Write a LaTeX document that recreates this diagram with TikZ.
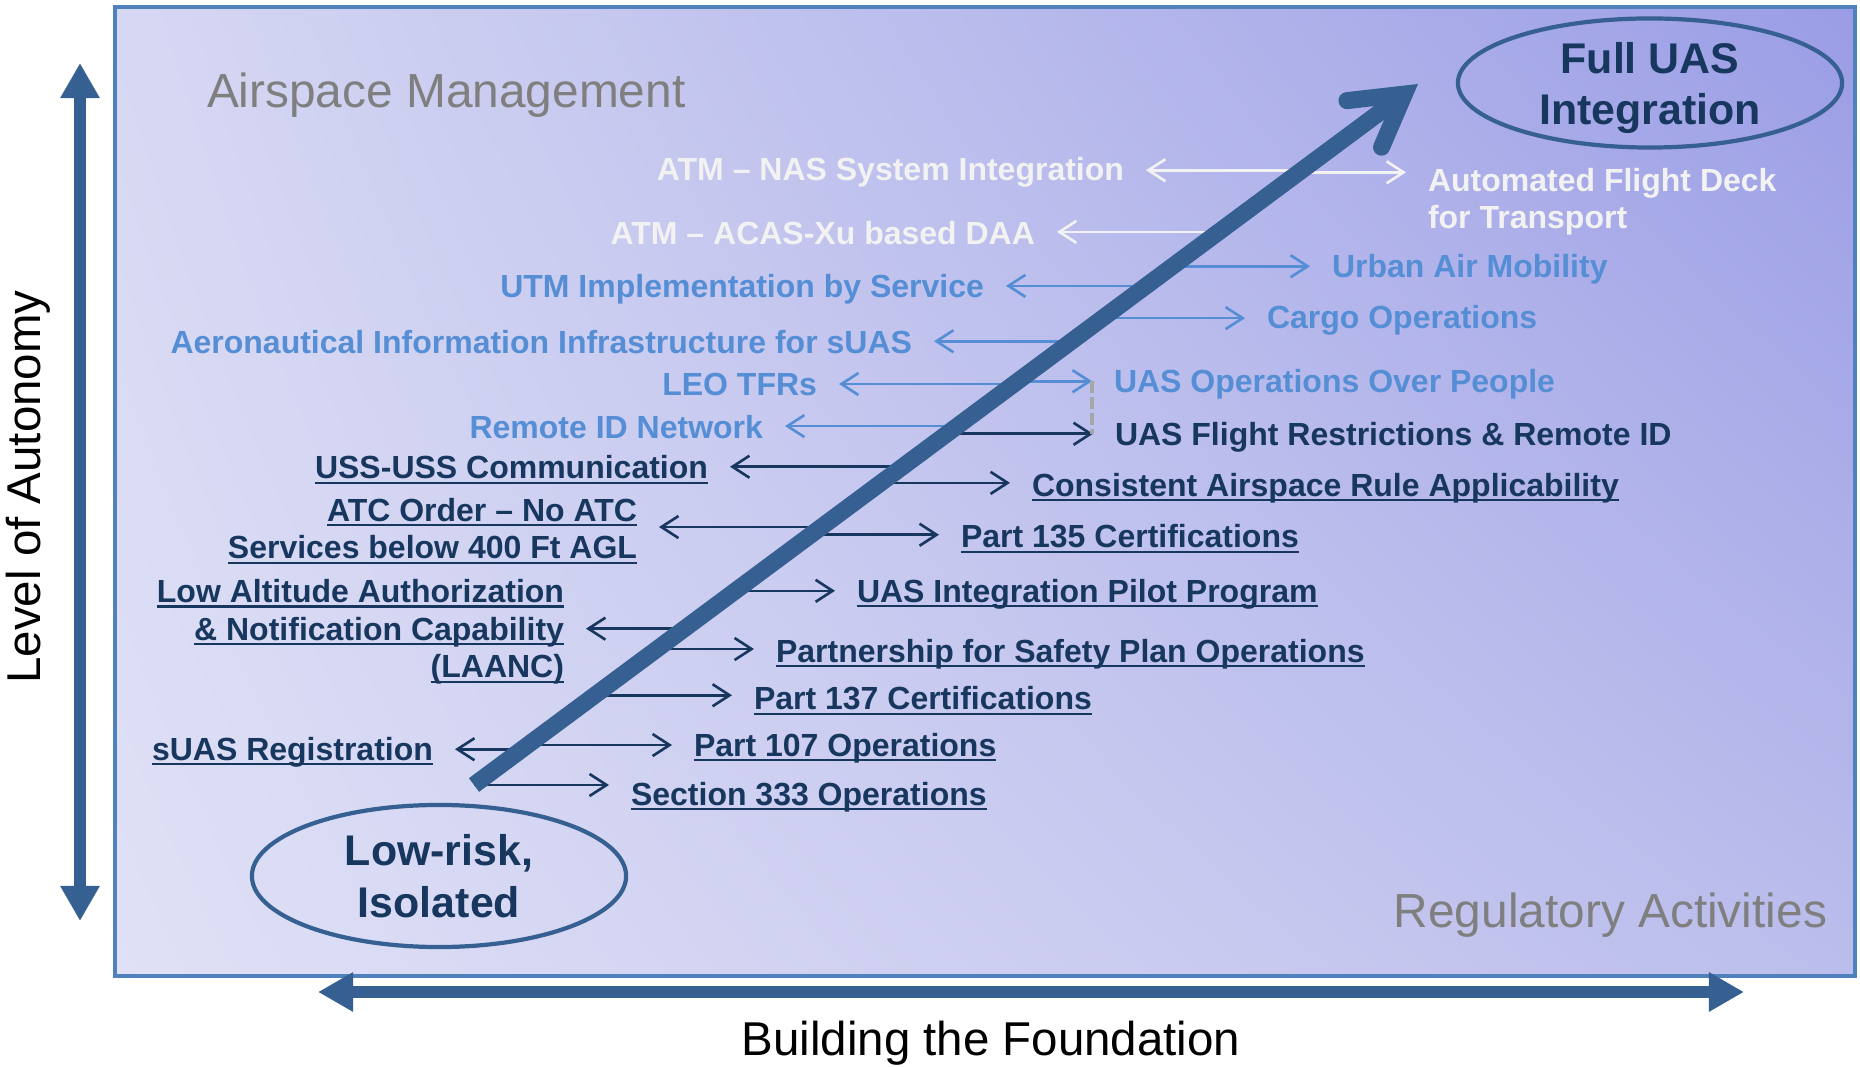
\documentclass[tikz,border=0pt]{standalone}
\usepackage{fontspec}
\setmainfont{Liberation Sans}
\usepackage{xcolor}
\usepackage{tikz}
\usetikzlibrary{shapes,arrows,positioning,calc,shadings,arrows.meta}

\definecolor{navy}{HTML}{17375E}
\definecolor{midblue}{HTML}{376092}
\definecolor{frameblue}{HTML}{4F81BD}
\definecolor{labelblue}{HTML}{558ED5}
\definecolor{offwhite}{HTML}{F2F2F2}
\definecolor{dashgray}{HTML}{A6A6A6}
\definecolor{textgray}{HTML}{7F7F7F}
\definecolor{bgul}{HTML}{D6D8F3}
\definecolor{bgur}{HTML}{9A9DE5}
\definecolor{bgll}{HTML}{E0E1F6}
\definecolor{bglr}{HTML}{BBBDEC}

\newcommand{\uln}[1]{\leavevmode\setbox0=\hbox{#1}\rlap{\rule[-0.16em]{\wd0}{0.065em}}\box0}

\begin{document}
\begin{tikzpicture}[x=0.01cm, y=-0.01cm, outer sep=0pt,
    lab/.style={font=\bfseries\fontsize{9.1}{10.7}\selectfont, inner xsep=0.22cm, inner ysep=0pt, yshift=-0.028cm},
    lft/.style={lab, anchor=east, align=right},
    rgt/.style={lab, anchor=west, align=left},
    conn/.style={line width=0.75pt, -{Straight Barb[length=0.17cm, width=0.22cm]}},
    goal/.style={draw=midblue, line width=1.2pt, ellipse, inner sep=0pt},
    goal text/.style={text=navy, align=center, inner sep=0pt, font=\bfseries\fontsize{12.2}{14.8}\selectfont},
    axis arrow/.style={midblue, line width=3.4pt, {Triangle[length=0.35cm, width=0.37cm]}-{Triangle[length=0.35cm, width=0.37cm]}},
    axis text/.style={font=\fontsize{13.5}{16}\selectfont, inner sep=0pt},
    area/.style={textgray, font=\fontsize{13.6}{16}\selectfont, inner sep=0pt}]
    \useasboundingbox (0,0) rectangle (1860,1067);
    % background panel
    \shade[upper left=bgul, upper right=bgur, lower left=bgll, lower right=bglr] (115,7) rectangle (1855,976);
    \draw[frameblue, line width=1.1pt] (115,7) rectangle (1855,976);

    % axes
    \coordinate (autotop) at (80,63);
    \coordinate (autobot) at (80,921);
    \draw[axis arrow] (autobot) -- (autotop);
    \node[axis text, rotate=90] (autonomy) at (28,487) {Level of Autonomy};
    \coordinate (foundl) at (318,992);
    \coordinate (foundr) at (1744,992);
    \draw[axis arrow] (foundl) -- (foundr);
    \node[axis text] (foundation) at (991,1043) {Building the Foundation};

    \node[area, anchor=west] (airspace) at (207,95) {Airspace Management};
    \node[area, anchor=east] (regulatory) at (1827,915) {Regulatory Activities};

    % start and goal
    \node[goal, minimum width=3.74cm, minimum height=1.42cm] (lowrisk) at (439,876) {};
    \node[goal text] (lowrisktext) at (lowrisk.center) {Low-risk,\\Isolated};
    \node[goal, minimum width=3.84cm, minimum height=1.29cm] (fulluas) at (1650,83) {};
    \node[goal text, font=\bfseries\fontsize{12.2}{14.3}\selectfont] (fulluastext) at (1650,88) {Full UAS\\Integration};

    % points on the progression line
    \coordinate (lo) at (474,785);
    \coordinate (hi) at (1418,84);
    \path (lo) -- (hi)
        coordinate[pos=0.877] (p-atmnas) coordinate[pos=0.874] (p-afd)
        coordinate[pos=0.789] (p-atmacas) coordinate[pos=0.740] (p-uam)
        coordinate[pos=0.712] (p-utm) coordinate[pos=0.666] (p-cargo)
        coordinate[pos=0.633] (p-aiis) coordinate[pos=0.576] (p-opsp)
        coordinate[pos=0.572] (p-leo) coordinate[pos=0.512] (p-rid)
        coordinate[pos=0.501] (p-frid) coordinate[pos=0.454] (p-uss)
        coordinate[pos=0.431] (p-cons) coordinate[pos=0.368] (p-atc)
        coordinate[pos=0.357] (p-p135) coordinate[pos=0.277] (p-uip)
        coordinate[pos=0.223] (p-laanc) coordinate[pos=0.194] (p-psp)
        coordinate[pos=0.128] (p-p137) coordinate[pos=0.057] (p-p107)
        coordinate[pos=0.051] (p-suas) coordinate[pos=0] (p-s333);

    % airspace management
    \node[lft, text=offwhite] (atmnas) at (1146,170) {ATM – NAS System Integration};
    \node[lft, text=offwhite] (atmacas) at (1057,230) {ATM – ACAS-Xu based DAA};
    \node[lft, text=labelblue] (utm) at (1006,286) {UTM Implementation by Service};
    \node[lft, text=labelblue] (aiis) at (934,339) {Aeronautical Information Infrastructure for sUAS};
    \node[lft, text=labelblue] (leo) at (839,382) {LEO TFRs};
    \node[lft, text=labelblue] (rid) at (785,424) {Remote ID Network};
    \node[lft, text=navy] (uss) at (730,467) {\uln{USS-USS Communication}};
    \node[lft, text=navy] (atc) at (659,528) {\uln{ATC Order – No ATC}\\\uln{Services below 400 Ft AGL}};
    \node[lft, text=navy] (laanc) at (586,629) {\uln{Low Altitude Authorization}\\\uln{\& Notification Capability}\\\uln{(LAANC)}};
    \node[lft, text=navy] (suas) at (455,749) {\uln{sUAS Registration}};

    % regulatory activities
    \node[rgt, text=offwhite] (afd) at (1406,199) {Automated Flight Deck\\for Transport};
    \node[rgt, text=labelblue] (uam) at (1310,266) {Urban Air Mobility};
    \node[rgt, text=labelblue] (cargo) at (1245,318) {Cargo Operations};
    \node[rgt, text=labelblue] (opsp) at (1092,381) {UAS Operations Over People};
    \node[rgt, text=navy] (frid) at (1093,434) {UAS Flight Restrictions \& Remote ID};
    \node[rgt, text=navy] (cons) at (1010,485) {\uln{Consistent Airspace Rule Applicability}};
    \node[rgt, text=navy] (p135) at (939,536) {\uln{Part 135 Certifications}};
    \node[rgt, text=navy] (uip) at (835,591) {\uln{UAS Integration Pilot Program}};
    \node[rgt, text=navy] (psp) at (754,651) {\uln{Partnership for Safety Plan Operations}};
    \node[rgt, text=navy] (p137) at (732,698) {\uln{Part 137 Certifications}};
    \node[rgt, text=navy] (p107) at (672,745) {\uln{Part 107 Operations}};
    \node[rgt, text=navy] (s333) at (609,794) {\uln{Section 333 Operations}};

    % connectors
    \draw[conn, offwhite] (p-atmnas) -- (atmnas.east |- p-atmnas);
    \draw[conn, offwhite] (p-afd) -- (afd.west |- p-afd);
    \draw[conn, offwhite] (p-atmacas) -- (atmacas.east |- p-atmacas);
    \draw[conn, labelblue] (p-utm) -- (utm.east |- p-utm);
    \draw[conn, labelblue] (p-uam) -- (uam.west |- p-uam);
    \draw[conn, labelblue] (p-cargo) -- (cargo.west |- p-cargo);
    \draw[conn, labelblue] (p-aiis) -- (aiis.east |- p-aiis);
    \draw[conn, labelblue] (p-leo) -- (leo.east |- p-leo);
    \draw[conn, labelblue] (p-opsp) -- (opsp.west |- p-opsp);
    \draw[conn, labelblue] (p-rid) -- (rid.east |- p-rid);
    \draw[conn, navy] (p-frid) -- (frid.west |- p-frid);
    \draw[dashgray, line width=1pt, dash pattern=on 0.12cm off 0.04cm] (opsp.west |- p-opsp) -- (opsp.west |- p-frid);
    \draw[conn, navy] (p-uss) -- (uss.east |- p-uss);
    \draw[conn, navy] (p-cons) -- (cons.west |- p-cons);
    \draw[conn, navy] (p-atc) -- (atc.east |- p-atc);
    \draw[conn, navy] (p-p135) -- (p135.west |- p-p135);
    \draw[conn, navy] (p-uip) -- (uip.west |- p-uip);
    \draw[conn, navy] (p-laanc) -- (laanc.east |- p-laanc);
    \draw[conn, navy] (p-psp) -- (psp.west |- p-psp);
    \draw[conn, navy] (p-p137) -- (p137.west |- p-p137);
    \draw[conn, navy] (p-p107) -- (p107.west |- p-p107);
    \draw[conn, navy] (p-suas) -- (suas.east |- p-suas);
    \draw[conn, navy] (p-s333) -- (s333.west |- p-s333);

    % progression arrow
    \draw[midblue, line width=0.17cm, -{Straight Barb[length=0.5cm, width=0.58cm, line cap=round, line join=miter]}] (lo) -- (hi);
\end{tikzpicture}
\end{document}
